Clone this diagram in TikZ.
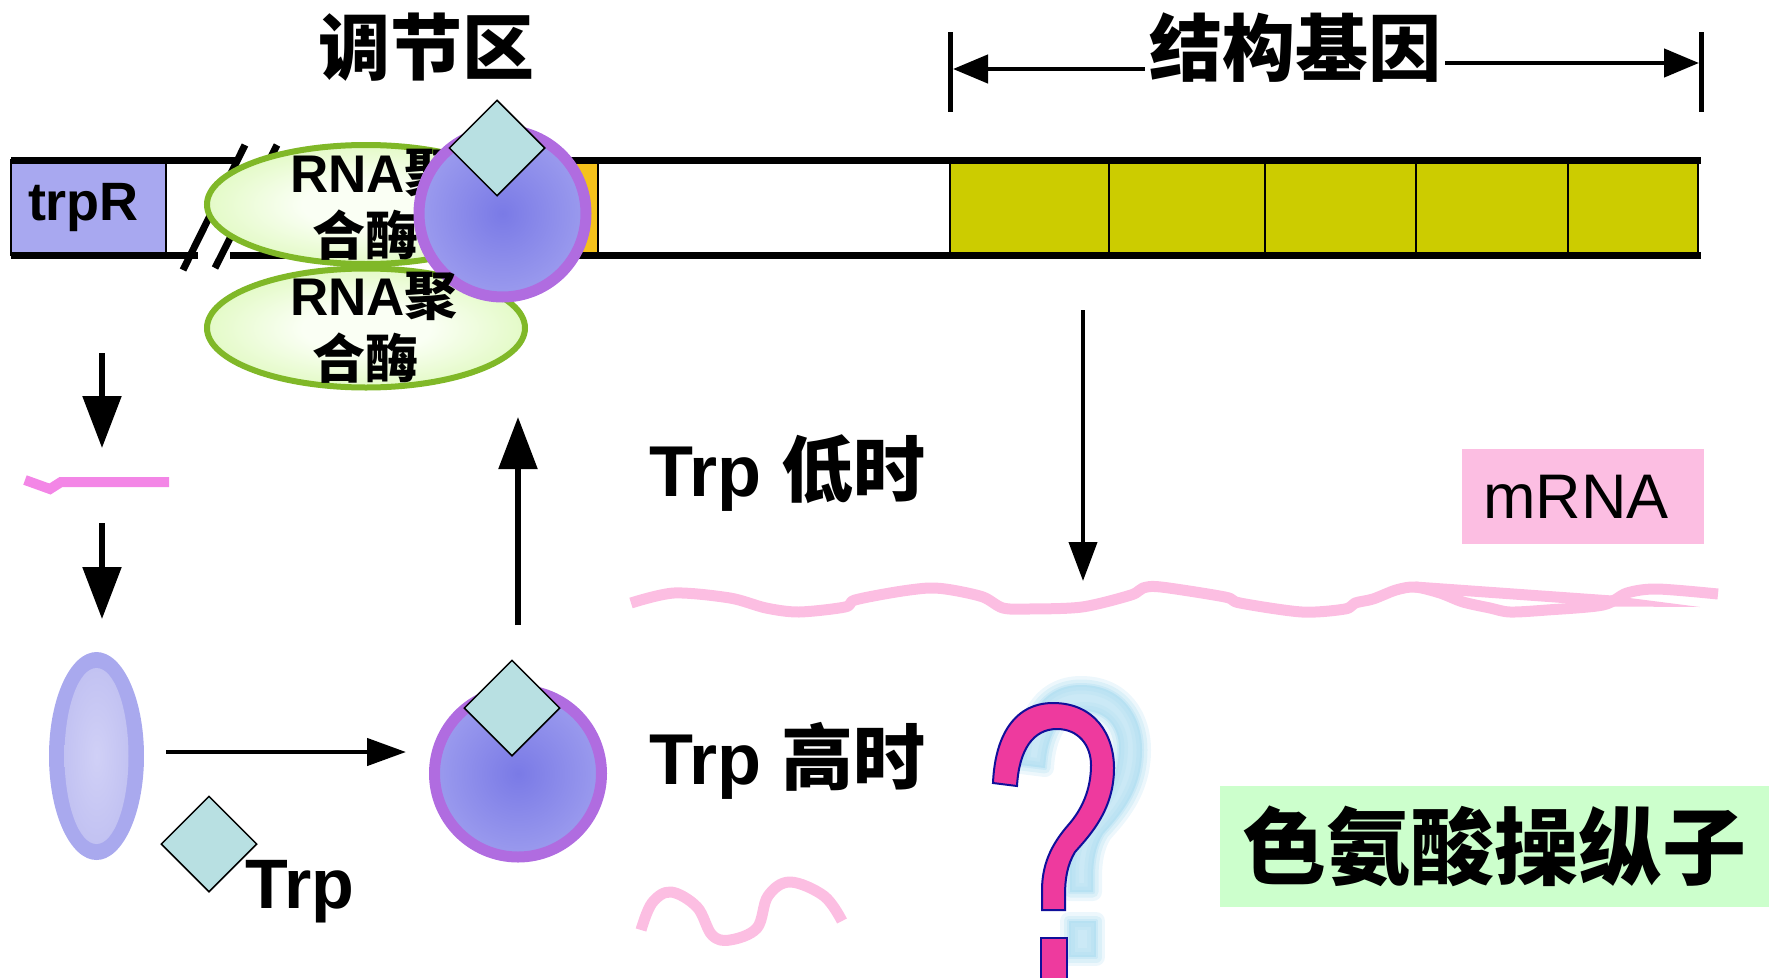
\documentclass[tikz,border=0pt]{standalone}
\usepackage{fontspec}
\setmainfont{Liberation Sans}
\newfontfamily\cjk{Noto Sans CJK SC}
\newcommand{\zh}[1]{{\cjk #1}}
\usetikzlibrary{arrows.meta,shapes.geometric,positioning}

\definecolor{genecol}{RGB}{204,204,0}
\definecolor{opcol}{RGB}{245,194,27}
\definecolor{trpRcol}{RGB}{168,168,240}
\definecolor{polline}{RGB}{128,184,40}
\definecolor{polout}{RGB}{190,242,124}
\definecolor{polin}{RGB}{250,255,244}
\definecolor{ringcol}{RGB}{176,108,224}
\definecolor{repin}{RGB}{122,122,230}
\definecolor{repout}{RGB}{188,188,246}
\definecolor{trpcol}{RGB}{184,224,226}
\definecolor{mrnacol}{RGB}{252,190,226}
\definecolor{leadercol}{RGB}{243,134,230}
\definecolor{ovalout}{RGB}{169,169,238}
\definecolor{ovalin}{RGB}{208,208,246}
\definecolor{ovaledge}{RGB}{180,180,238}
\definecolor{boxgreen}{RGB}{204,255,204}
\definecolor{qpink}{RGB}{238,58,158}
\definecolor{qblue}{RGB}{16,16,154}
\definecolor{qshadow}{RGB}{172,220,240}

\pgfdeclareradialshading{polshade}{\pgfpoint{0bp}{0bp}}{color(0bp)=(polin); color(10bp)=(polin); color(50bp)=(polout)}
\pgfdeclareradialshading{repshade}{\pgfpoint{0bp}{0bp}}{color(0bp)=(repin); color(50bp)=(repout)}
\pgfdeclareradialshading{ovalshade}{\pgfpoint{0bp}{0bp}}{color(0bp)=(ovalin); color(50bp)=(ovaledge)}

% outline of the big question mark
\newcommand{\qmarkpath}{(993,783) .. controls (995,735) and (1015,703) .. (1053,703)
  .. controls (1095,703) and (1114,735) .. (1114,768)
  .. controls (1114,810) and (1090,835) .. (1075,852)
  .. controls (1067,865) and (1065,880) .. (1065,895) -- (1065,910) -- (1042,910) -- (1042,890)
  .. controls (1042,860) and (1055,840) .. (1070,823)
  .. controls (1085,805) and (1091,785) .. (1091,765)
  .. controls (1091,745) and (1078,729) .. (1057,729)
  .. controls (1033,729) and (1019,750) .. (1017,786) -- cycle}

\begin{document}
\begin{tikzpicture}[x=1pt,y=-1pt,
    strand/.style={line width=7pt},
    bigarrow/.style={line width=5.5pt,-{Triangle[length=52pt,width=38pt]}},
    midarrow/.style={line width=4.5pt,-{Triangle[length=39pt,width=27pt]}},
    dimarrow/.style={line width=4.5pt,-{Triangle[length=35pt,width=28pt]}},
    headline/.style={font=\fontsize{72}{80}\selectfont\cjk\bfseries,inner sep=0pt},
    trplabel/.style={font=\fontsize{72}{80}\selectfont\bfseries,inner sep=0pt,anchor=base west},
    poltext/.style={inner sep=0pt,align=center,font=\fontsize{53}{63}\selectfont\bfseries},
    polymerase/.style={ellipse,draw=polline,line width=6pt,shade,shading=polshade,
      minimum width=318pt,minimum height=119pt,inner sep=0pt},
    repressor/.style={circle,draw=ringcol,line width=11pt,shade,shading=repshade,
      minimum size=167pt,inner sep=0pt},
    trp/.style={diamond,draw=black,line width=1.5pt,fill=trpcol,
      minimum width=96pt,minimum height=96pt,inner sep=0pt},
    mrna/.style={draw=mrnacol,line width=11pt,line join=round,line cap=butt}]

    \useasboundingbox (0,0) rectangle (1769,977);

    % operon on the DNA
    \fill[opcol] (540,160) rectangle (598,255);
    \foreach \a/\b in {950/1109,1109/1265,1265/1416,1416/1568,1568/1698}
        \draw[fill=genecol,line width=1.5pt] (\a,160) rectangle (\b,255);
    \draw[line width=2pt] (598,160) -- (598,255);
    \node[draw=black,line width=2pt,fill=trpRcol,minimum width=155pt,minimum height=95pt,
        inner sep=0pt,font=\fontsize{54}{60}\selectfont\bfseries] (trpR) at (88.5,207.5) {\hspace*{-10pt}trpR};

    \draw[strand] (11,160) -- (238,160);
    \draw[strand] (270,160) -- (1701,160);
    \draw[strand] (11,255) -- (198,255);
    \draw[strand] (230,255) -- (1701,255);
    \draw[strand] (183,270) -- (245,145);
    \draw[strand] (215,268) -- (277,145);

    % regulatory / structural region labels
    \node[headline] (reg) at (426,47) {调节区};
    \node[headline,font=\fontsize{73}{80}\selectfont\cjk\bfseries] (sg) at (1295,47.5) {结构基因};
    \coordinate (sgL) at (950,32);
    \coordinate (sgL') at (950,112);
    \coordinate (sgR) at (1701,32);
    \coordinate (sgR') at (1701,112);
    \draw[line width=5pt] (sgL) -- (sgL');
    \draw[line width=5pt] (sgR) -- (sgR');
    \draw[dimarrow] ([xshift=-4pt]sg.west |- 0,69) -- (953,69);
    \draw[dimarrow] ([xshift=4pt]sg.east |- 0,63) -- (1699,63);

    % polymerase and bound repressor
    \node[polymerase] (pol1) at (366,204.5) {};
    \node[polymerase] (pol2) at (366,328) {};
    \node[poltext] (pol1txt) at ([xshift=8pt]pol1.center) {RNA\zh{聚}\\\zh{合酶}\hspace*{18pt}};
    \node[repressor] (rep1) at (502.5,213.5) {};
    \node[trp] (trp1) at (497,148) {};
    \node[poltext] (pol2txt) at ([xshift=8pt]pol2.center) {RNA\zh{聚}\\\zh{合酶}\hspace*{18pt}};

    % left column: trpR -> leader mRNA -> aporepressor
    \coordinate (l1a) at (102,353);
    \coordinate (l1b) at (102,448);
    \coordinate (l2a) at (102,523);
    \coordinate (l2b) at (102,619);
    \draw[bigarrow] (l1a) -- (l1b);
    \draw[leadercol,line width=10pt] (25,480) -- (50,489) -- (61,482) -- (169,482);
    \draw[bigarrow] (l2a) -- (l2b);

    \node[ellipse,fill=ovalout,minimum width=95pt,minimum height=208pt,inner sep=0pt] (apo) at (96.5,756) {};
    \shade[shading=ovalshade] (apo.center) ellipse [x radius=32, y radius=88];

    \node[trp] (trp3) at (209,844) {};
    \node[trplabel,font=\fontsize{70}{80}\selectfont\bfseries] (trp3lbl) at (245,908) {Trp};

    \node[repressor] (rep2) at (518,773.5) {};
    \node[trp] (trp2) at (512,708) {};

    \coordinate (h1) at (166,752);
    \coordinate (h2) at (406,752);
    \draw[midarrow] (h1) -- (h2);
    \coordinate (u1) at (518,625);
    \coordinate (u2) at (518,417);
    \draw[bigarrow] (u1) -- (u2);

    % Trp low / high
    \node[trplabel] (low) at (649,496) {Trp \zh{低时}};
    \node[trplabel] (high) at (649,784) {Trp \zh{高时}};

    \coordinate (d1) at (1083,310);
    \coordinate (d2) at (1083,581);
    \draw[line width=4pt,-{Triangle[length=39pt,width=28pt]}] (d1) -- (d2);

    \draw[mrna] plot[smooth,tension=0.5] coordinates {(631,603) (674,593) (730,598) (766,608)
        (799,612) (845,607) (855,600) (896,592) (929,588) (952,590) (983,597) (1003,608)
        (1029,609) (1082,607) (1131,595) (1143,588) (1161,587) (1225,597) (1240,603)
        (1302,612) (1345,609) (1355,603) (1373,599) (1396,590) (1415,587) (1440,593)
        (1463,602) (1490,608) (1510,612) (1547,610) (1603,605) (1627,593) (1657,589) (1718,594)};
    \draw[mrna] (1415,587) -- (1612,601);
    \fill[mrnacol] (1610,595.5) -- (1700,607) -- (1610,606.5) -- cycle;

    \node[fill=mrnacol,minimum width=242pt,minimum height=95pt,inner sep=0pt,
        font=\fontsize{63}{70}\selectfont] (mbox) at (1583,496.5) {mRNA\hspace*{14pt}};

    \draw[mrna] plot[smooth,tension=0.6] coordinates {(641,930) (652,903) (671,892) (697,907)
        (712,935) (730,940) (757,928) (768,896) (790,882) (824,896) (842,921)};

    % question mark with its soft shadow
    \foreach \w/\o in {18/0.22,11/0.28,4/0.35} {
        \fill[qshadow,opacity=\o,draw=qshadow,line width=\w pt,line join=round,shift={(28,-18)}] \qmarkpath;
        \fill[qshadow,opacity=\o,draw=qshadow,line width=\w pt,line join=round] (1069,921) rectangle (1096,957);
    }
    \draw[fill=qpink,draw=qblue,line width=2pt] \qmarkpath;
    \draw[fill=qpink,draw=qblue,line width=2pt] (1041,938) rectangle (1067,990);

    \node[fill=boxgreen,minimum width=560pt,minimum height=121pt,inner sep=0pt,
        font=\fontsize{84}{90}\selectfont\cjk\bfseries] (operon) at (1500,846.5) {色氨酸操纵子\hspace*{12pt}};
\end{tikzpicture}
\end{document}
